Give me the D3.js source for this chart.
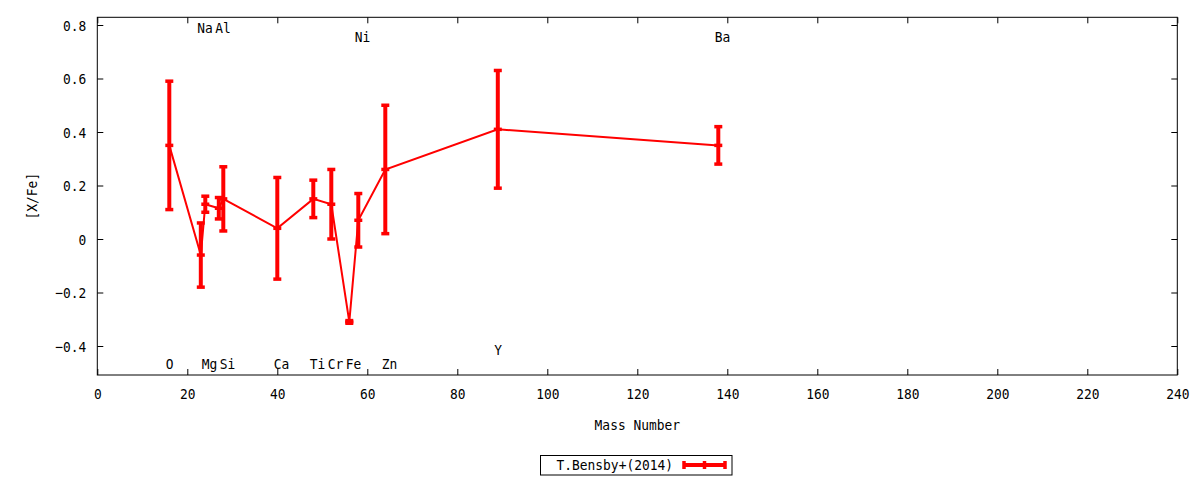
<!DOCTYPE html>
<html>
<head>
<meta charset="utf-8">
<script src="https://cdn.jsdelivr.net/npm/d3@7/dist/d3.min.js"></script>
<style>
  html, body { margin: 0; padding: 0; background: #fff; }
  svg text { font-family: "DejaVu Sans Mono", monospace; font-size: 14.5px; fill: #000; }
</style>
</head>
<body>
<svg id="chart" width="1200" height="480"></svg>
<script>
// ---- data ----
const elements = ["O", "Na", "Mg", "Al", "Si", "Ca", "Ti", "Cr", "Fe", "Ni", "Zn", "Y", "Ba"];
const massNumbers = [16, 23, 24, 27, 28, 40, 48, 52, 56, 58, 64, 89, 138];
const xFeValues = [0.35, -0.06, 0.13, 0.115, 0.15, 0.04, 0.15, 0.13, -0.31, 0.07, 0.26, 0.41, 0.35];
const xFeErrors = [0.24, 0.12, 0.03, 0.04, 0.12, 0.19, 0.07, 0.13, 0.005, 0.10, 0.24, 0.22, 0.07];
const labelYValues = [-0.465, 0.79, -0.465, 0.79, -0.465, -0.465, -0.465, -0.465, -0.465, 0.755, -0.465, -0.413, 0.755];
const xTicks = [0, 20, 40, 60, 80, 100, 120, 140, 160, 180, 200, 220, 240];
const yTicks = [-0.4, -0.2, 0, 0.2, 0.4, 0.6, 0.8];
const seriesName = "T.Bensby+(2014)";
const xTitle = "Mass Number";
const yTitle = "[X/Fe]";

// ---- layout ----
const L = 97.3, R = 1177.3, T = 17.3, B = 375;
const red = "#ff0000";
const SX = 0.89; // horizontal condensing of the font
const svg = d3.select("#chart");

const x = d3.scaleLinear().domain([0, 240]).range([L, R]);
const y = d3.scaleLinear().domain([-0.5084, 0.8288]).range([B, T]);

const rows = elements.map((e, i) => ({
  el: e, m: massNumbers[i], v: xFeValues[i], err: xFeErrors[i], ly: labelYValues[i]
}));

// condense text horizontally around its anchor
function condense(sel, extra) {
  sel.each(function () {
    const t = d3.select(this);
    const tx = +t.attr("x") || 0, ty = +t.attr("y") || 0;
    t.attr("x", 0).attr("y", 0)
      .attr("transform", `translate(${tx},${ty})${extra || ""} scale(${SX},1)`);
  });
}

// frame
svg.append("rect").attr("x", L).attr("y", T).attr("width", R - L).attr("height", B - T)
  .attr("fill", "none").attr("stroke", "#000").attr("stroke-width", 1);

// axes
const tickLen = 6;
const gx = svg.append("g").attr("transform", `translate(0,${B})`)
  .call(d3.axisBottom(x).tickValues(xTicks).tickSizeInner(-tickLen).tickSizeOuter(0).tickFormat(d3.format("d")));
const gxT = svg.append("g").attr("transform", `translate(0,${T})`)
  .call(d3.axisTop(x).tickValues(xTicks).tickSizeInner(-tickLen).tickSizeOuter(0).tickFormat(""));
const yFmt = d => d === 0 ? "0" : d3.format(".1f")(d);
const gy = svg.append("g").attr("transform", `translate(${L},0)`)
  .call(d3.axisLeft(y).tickValues(yTicks).tickSizeInner(-tickLen).tickSizeOuter(0).tickFormat(yFmt));
const gyR = svg.append("g").attr("transform", `translate(${R},0)`)
  .call(d3.axisRight(y).tickValues(yTicks).tickSizeInner(-tickLen).tickSizeOuter(0).tickFormat(""));
[gx, gxT, gy, gyR].forEach(g => {
  g.select(".domain").remove();
  g.selectAll(".tick line").attr("stroke", "#000");
  g.selectAll("text").attr("font-family", "DejaVu Sans Mono").attr("font-size", 14.5).attr("fill", "#000");
});
gx.selectAll(".tick text").attr("dy", null).attr("y", 19).attr("dominant-baseline", "central");
gy.selectAll(".tick text").attr("dy", null).attr("x", -11).attr("dominant-baseline", "central");
condense(gx.selectAll(".tick text"));
condense(gy.selectAll(".tick text"));

// titles
condense(svg.append("text").attr("x", (L + R) / 2).attr("y", 425).attr("text-anchor", "middle")
  .attr("dominant-baseline", "central").text(xTitle));
condense(svg.append("text").attr("x", 32).attr("y", (T + B) / 2)
  .attr("text-anchor", "middle").attr("dominant-baseline", "central").text(yTitle), " rotate(-90)");

// connecting line
const line = d3.line().x(d => x(d.m)).y(d => y(d.v));
svg.append("path").datum(rows).attr("d", line).attr("fill", "none")
  .attr("stroke", red).attr("stroke-width", 2);

// error bars
const capW = 4;
const eb = svg.append("g").attr("stroke", red).attr("fill", "none");
rows.forEach(d => {
  const cx = x(d.m);
  eb.append("line").attr("x1", cx).attr("x2", cx).attr("y1", y(d.v + d.err)).attr("y2", y(d.v - d.err)).attr("stroke-width", 4);
  [d.v + d.err, d.v - d.err, d.v].forEach(v => {
    eb.append("line").attr("x1", cx - capW).attr("x2", cx + capW).attr("y1", y(v)).attr("y2", y(v)).attr("stroke-width", 3.5);
  });
});

// element labels
condense(svg.append("g").selectAll("text").data(rows).join("text")
  .attr("x", d => x(d.m) - 3.5).attr("y", d => y(d.ly))
  .attr("text-anchor", "start").attr("dominant-baseline", "central")
  .text(d => d.el));

// legend
const lg = svg.append("g");
lg.append("rect").attr("x", 540.5).attr("y", 455.5).attr("width", 191.5).attr("height", 19.5)
  .attr("fill", "#fff").attr("stroke", "#000").attr("stroke-width", 1);
condense(lg.append("text").attr("x", 673).attr("y", 465).attr("text-anchor", "end")
  .attr("dominant-baseline", "central").text(seriesName));
const lx1 = 684, lx2 = 725, ly = 465;
lg.append("line").attr("x1", lx1).attr("x2", lx2).attr("y1", ly).attr("y2", ly).attr("stroke", red).attr("stroke-width", 4);
[lx1, lx2, (lx1 + lx2) / 2].forEach(xx => {
  lg.append("line").attr("x1", xx).attr("x2", xx).attr("y1", ly - 4).attr("y2", ly + 4).attr("stroke", red).attr("stroke-width", 3.5);
});
</script>
</body>
</html>
